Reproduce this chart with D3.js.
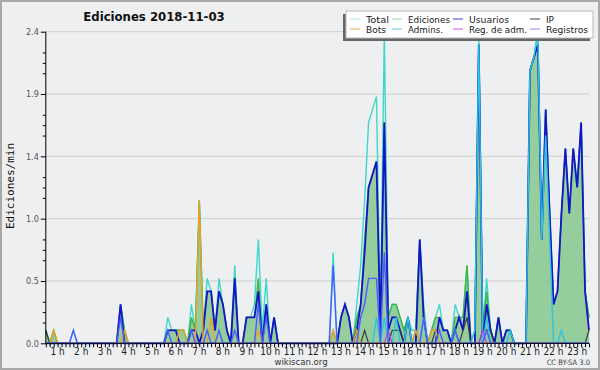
<!DOCTYPE html>
<html>
<head>
<meta charset="utf-8">
<script src="https://cdn.jsdelivr.net/npm/d3@7"></script>
<style>
  body { margin: 0; background: #fff; }
  svg { display: block; font-family: "DejaVu Sans Condensed", "Liberation Sans Narrow", "DejaVu Sans", sans-serif; }
</style>
</head>
<body>
<div id="chart"></div>
<script>
// valores cada 10 minutos (ediciones/min), 00:00 -> 23:00, 6 por hora
const total = [
  0.1,0,0.1,0,0,0,   0,0.1,0,0,0,0,   0,0,0,0,0,0,   0,0.3,0.1,0,0,0,
  0,0,0,0,0,0,   0,0.2,0.1,0.1,0.1,0.1,   0,0.3,0.1,1.1,0.1,0.5,   0.4,0.1,0.5,0.3,0.1,0,
  0.6,0,0,0.2,0.2,0.3,   0.8,0.1,0.5,0,0.2,0,   0,0,0,0,0,0,   0,0,0,0,0,0,
  0,0.7,0,0.2,0.3,0.2,   0,0.3,0.6,1.1,1.7,1.8,   1.9,0.2,2.4,0.2,0.3,0.3,   0.2,0.1,0.2,0.1,0.1,0.8,
  0.3,0,0.1,0.2,0.3,0.1,   0.1,0,0.3,0.2,0.2,0.6,   0,0.1,2.4,0.1,0.5,0.1,   0,0.2,0,0.1,0.1,0,
  0,0,0,2.1,2.2,2.4,   0.8,1.8,1.0,0.3,0.4,1.0,   1.5,1.0,1.5,1.2,1.7,0.4,   0.2
];
const ediciones = [
  0.1,0,0.1,0,0,0,   0,0,0,0,0,0,   0,0,0,0,0,0,   0,0.3,0.1,0,0,0,
  0,0,0,0,0,0,   0,0.1,0.1,0.1,0.1,0.1,   0,0.2,0.1,1.1,0.1,0.4,   0.4,0.1,0.4,0.3,0.1,0,
  0.5,0,0,0.2,0.2,0.2,   0.5,0,0.3,0,0.2,0,   0,0,0,0,0,0,   0,0,0,0,0,0,
  0,0.1,0,0.2,0.3,0.2,   0,0.2,0.3,0.8,1.2,1.3,   1.4,0.1,1.7,0.2,0.3,0.3,   0.2,0.1,0.2,0,0.1,0.8,
  0.2,0,0.1,0.2,0.2,0.1,   0.1,0,0.2,0.2,0.2,0.6,   0,0,2.3,0.1,0.4,0.1,   0,0.2,0,0.1,0.1,0,
  0,0,0,2.1,2.2,2.3,   0.8,1.8,1.0,0.3,0.4,1.0,   1.5,1.0,1.5,1.2,1.7,0.4,   0.2
];
const usuarios = [
  0,0,0,0,0,0,   0,0,0,0,0,0,   0,0,0,0,0,0,   0,0.3,0,0,0,0,
  0,0,0,0,0,0,   0,0.1,0.1,0.1,0,0,   0,0.1,0.1,0,0.1,0.4,   0.4,0.1,0.4,0.3,0.1,0,
  0.5,0,0,0.2,0.2,0.2,   0.4,0,0.3,0,0.2,0,   0,0,0,0,0,0,   0,0,0,0,0,0,
  0,0,0,0.2,0.3,0.2,   0,0.1,0.3,0.7,1.2,1.3,   1.4,0.1,1.7,0.1,0.2,0.2,   0.1,0,0.2,0,0,0.8,
  0.2,0,0,0,0.2,0.1,   0.1,0,0.1,0.2,0.1,0.4,   0,0,2.3,0,0.3,0.1,   0,0.2,0,0.1,0.1,0,
  0,0,0,2.1,2.2,2.3,   0.8,1.8,1.0,0.3,0.4,1.0,   1.5,1.0,1.5,1.2,1.7,0.4,   0.1
];
const ip = [
  0.1,0,0,0,0,0,   0,0,0,0,0,0,   0,0,0,0,0,0,   0,0,0,0,0,0,
  0,0,0,0,0,0,   0,0,0,0,0,0,   0,0,0,0,0,0,   0,0,0,0,0,0,
  0,0,0,0,0,0,   0,0,0,0,0,0,   0,0,0,0,0,0,   0,0,0,0,0,0,
  0,0,0,0,0,0,   0,0,0,0.1,0,0,   0,0,0,0,0.1,0.1,   0.1,0,0,0,0,0,
  0,0,0,0.1,0,0,   0,0,0.1,0,0.1,0.2,   0,0,0,0.1,0.1,0.1,   0,0,0,0,0,0,
  0,0,0,0,0,0,   0,0,0,0,0,0,   0,0,0,0,0,0,   0.1
];
const bots = [
  0,0,0.1,0,0,0,   0,0,0,0,0,0,   0,0,0,0,0,0,   0,0,0.1,0,0,0,
  0,0,0,0,0,0,   0,0,0,0,0.1,0.1,   0,0,0,1.1,0,0,   0.2,0,0,0,0,0,
  0,0,0,0,0,0,   0.1,0,0,0,0,0,   0,0,0,0,0,0,   0,0,0,0,0,0,
  0,0.1,0,0,0,0,   0,0.1,0,0,0,0,   0,0,0,0,0,0,   0,0,0,0,0.1,0,
  0,0,0.1,0.1,0,0,   0,0,0,0,0,0,   0,0,0,0,0,0,   0,0,0,0,0,0,
  0,0,0,0,0,0,   0,0,0,0,0,0,   0,0,0,0,0,0,   0
];
const admins = [
  0,0,0,0,0,0,   0,0,0,0,0,0,   0,0,0,0,0,0,   0,0,0,0,0,0,
  0,0,0,0,0,0,   0,0,0,0,0,0,   0,0,0,0,0,0,   0,0,0,0,0,0,
  0,0,0,0,0,0,   0,0,0,0,0,0,   0,0,0,0,0,0,   0,0,0,0,0,0,
  0,0,0,0,0,0,   0,0,0,0,0,0,   0.2,0,0.2,0,0,0.2,   0,0,0.2,0,0,0,
  0.2,0,0,0,0,0,   0,0,0.1,0,0,0,   0,0.1,2.3,0,0.2,0,   0,0,0,0,0.1,0,
  0,0,0,2.1,2.2,2.4,   0.8,1.6,0.8,0,0,0.1,   0,0,0,0,0,0,   0
];
const regAdm = [
  0,0,0,0,0,0,   0,0,0,0,0,0,   0,0,0,0,0,0,   0,0,0,0,0,0,
  0,0,0,0,0,0,   0,0,0,0,0,0,   0,0,0,0,0,0,   0,0,0,0,0,0,
  0,0,0,0,0,0,   0,0,0,0,0,0,   0,0,0,0,0,0,   0,0,0,0,0,0,
  0,0,0,0,0,0,   0,0,0,0,0,0,   0,0,0,0.1,0,0,   0,0,0,0,0,0,
  0,0,0,0,0,0,   0,0,0,0,0,0,   0,0,0,0.1,0,0,   0,0,0,0,0,0,
  0,0,0,0,0,0,   0,0,0,0,0,0,   0,0,0,0,0,0,   0
];
const registros = [
  0,0,0,0,0,0,   0,0.1,0,0,0,0,   0,0,0,0,0,0,   0,0.2,0,0,0,0,
  0,0,0,0,0,0,   0,0.1,0,0,0,0,   0,0.1,0,0,0,0.1,   0,0,0.1,0,0,0,
  0.1,0,0,0,0,0,   0.3,0,0.2,0,0,0,   0,0,0,0,0,0,   0,0,0,0,0,0,
  0,0.6,0,0,0,0,   0,0,0.2,0.3,0.5,0.5,   0.5,0,0.7,0,0,0,   0,0,0,0,0,0,
  0.2,0,0,0,0.1,0,   0,0,0.1,0,0,0,   0,0,0,0,0.1,0,   0,0,0,0,0,0,
  0,0,0,0,0,0,   0,0,0,0,0,0,   0,0,0,0,0,0,   0
];
const horas = d3.range(1, 24).map(h => h + " h");
const yTicks = [0, 0.48, 0.96, 1.44, 1.92, 2.4];

const W = 600, H = 370;
const svg = d3.select("#chart").append("svg")
    .attr("width", W)
    .attr("height", H);

svg.append("rect").attr("width", W).attr("height", H).attr("fill", "#eeeff1");
svg.append("rect").attr("x", 1).attr("y", 1).attr("width", W - 2).attr("height", H - 2)
    .attr("fill", "none").attr("stroke", "#a8a8a8").attr("stroke-width", 2);

let x = d3.scaleLinear().domain([0, total.length - 1]).range([45.8, 589]);
let y = d3.scaleLinear().domain([0, 2.4]).range([343.3, 31.7]);

// lineas de la rejilla
svg.append("g").selectAll("line")
    .data(yTicks.slice(1))
    .enter().append("line")
    .attr("x1", x(0)).attr("x2", x(total.length - 1))
    .attr("y1", d => y(d)).attr("y2", d => y(d))
    .attr("stroke", "#cfcfcf");

// area de ediciones
let area = d3.area()
    .x((d, i) => x(i))
    .y0(y(0))
    .y1(d => y(d));
svg.append("path").datum(ediciones)
    .attr("d", area)
    .attr("fill", "#8cc992")
    .attr("fill-opacity", 0.9);

let line = d3.line().x((d, i) => x(i)).y(d => y(d));
const series = [
    {name: "Total", data: total, color: "#3ed8c8", legend: "#a6e8e2", w: 1.4, tw: 23},
    {name: "Ediciones", data: ediciones, color: "#3db446", legend: "#8fd894", w: 1.4, tw: 42},
    {name: "Usuarios", data: usuarios, color: "#1414c8", legend: "#3a3ae0", w: 1.8, tw: 40},
    {name: "IP", data: ip, color: "#3a3a3a", legend: "#444", w: 1.2, tw: 8},
    {name: "Bots", data: bots, color: "#f0a028", legend: "#f4a850", w: 1.4, tw: 20},
    {name: "Admins.", data: admins, color: "#2cc4e4", legend: "#5ccfe6", w: 1.4, tw: 35},
    {name: "Reg. de adm.", data: regAdm, color: "#c040e0", legend: "#cc55e6", w: 1.2, tw: 58},
    {name: "Registros", data: registros, color: "#4c5cff", legend: "#8a8af4", w: 1.4, tw: 42}
];
series.forEach(function (s) {
    svg.append("path").datum(s.data)
        .attr("d", line)
        .attr("fill", "none")
        .attr("stroke", s.color)
        .attr("stroke-width", s.w)
        .attr("stroke-linejoin", "miter");
});

// eje Y
let minor = [];
yTicks.slice(0, -1).forEach(t => { minor.push(t + 0.16, t + 0.24, t + 0.32); });
svg.append("g")
    .attr("transform", "translate(" + x(0) + ",0)")
    .call(d3.axisLeft(y).tickValues(minor).tickSize(3).tickFormat(""))
    .call(g => g.select(".domain").remove());
let yAxis = svg.append("g")
    .attr("transform", "translate(" + x(0) + ",0)")
    .call(d3.axisLeft(y).tickValues(yTicks).tickSize(5).tickPadding(2).tickFormat(d3.format(".1f")));
yAxis.select(".domain").attr("d", "M0," + y(2.4) + "V" + y(0));
yAxis.selectAll("text").attr("font-size", 9).attr("fill", "#555")
    .attr("font-family", "DejaVu Sans Condensed, DejaVu Sans, sans-serif");

// eje X
let xAxis = svg.append("g")
    .attr("transform", "translate(0," + y(0) + ")")
    .call(d3.axisBottom(x).tickValues(d3.range(0, total.length)).tickSize(4).tickFormat(""));
xAxis.select(".domain").attr("d", "M" + x(0) + ",0H" + x(total.length - 1));
svg.append("g").selectAll("text")
    .data(horas)
    .enter().append("text")
    .attr("x", (d, i) => x(i * 6 + 3))
    .attr("y", 355)
    .attr("text-anchor", "middle")
    .attr("font-size", 10)
    .attr("fill", "#222")
    .text(d => d);

svg.append("text")
    .attr("transform", "translate(14," + 186 + ") rotate(-90)")
    .attr("text-anchor", "middle")
    .attr("font-family", "DejaVu Sans Mono, monospace")
    .attr("font-size", 11)
    .attr("fill", "#111")
    .text("Ediciones/min");

svg.append("text")
    .attr("x", 154).attr("y", 21)
    .attr("text-anchor", "middle")
    .attr("font-size", 13)
    .attr("font-weight", "bold")
    .attr("fill", "#111")
    .text("Ediciones  2018-11-03");

svg.append("text")
    .attr("x", 301).attr("y", 365)
    .attr("text-anchor", "middle")
    .attr("font-size", 9.5)
    .attr("fill", "#333")
    .text("wikiscan.org");
svg.append("text")
    .attr("x", 590).attr("y", 365)
    .attr("text-anchor", "end")
    .attr("font-size", 7.5)
    .attr("fill", "#444")
    .text("CC BY-SA 3.0");

// leyenda
let lg = svg.append("g").attr("transform", "translate(346,11)");
lg.append("rect").attr("x", -3).attr("y", 3).attr("width", 247).attr("height", 27).attr("fill", "#666");
lg.append("rect").attr("x", 0).attr("y", 0).attr("width", 247).attr("height", 27)
    .attr("fill", "#fff").attr("stroke", "#bbb");
const colX = [4, 46, 107, 184];
series.forEach(function (s, i) {
    let cx = colX[i % 4], cy = i < 4 ? 8 : 18;
    lg.append("line").attr("x1", cx).attr("x2", cx + 10)
        .attr("y1", cy).attr("y2", cy)
        .attr("stroke", s.legend).attr("stroke-width", 1);
    lg.append("text").attr("x", cx + 16).attr("y", cy + 3.5)
        .attr("font-size", 9.5).attr("fill", "#222")
        .attr("textLength", s.tw).attr("lengthAdjust", "spacingAndGlyphs")
        .text(s.name);
});
</script>
</body>
</html>
